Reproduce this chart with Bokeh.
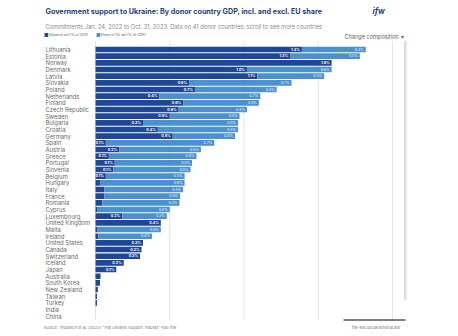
from bokeh.plotting import figure
from bokeh.models import ColumnDataSource, Range1d, Label, BoxAnnotation
from bokeh.core.properties import value
from bokeh.embed import file_html
from bokeh.resources import INLINE

countries = ["Lithuania", "Estonia", "Norway", "Denmark", "Latvia", "Slovakia", "Poland",
             "Netherlands", "Finland", "Czech Republic", "Sweden", "Bulgaria", "Croatia",
             "Germany", "Spain", "Austria", "Greece", "Portugal", "Slovenia", "Belgium",
             "Hungary", "Italy", "France", "Romania", "Cyprus", "Luxembourg",
             "United Kingdom", "Malta", "Ireland", "United States", "Canada", "Switzerland",
             "Iceland", "Japan", "Australia", "South Korea", "New Zealand", "Taiwan",
             "Turkey", "India", "China"]
bilateral = [1.39, 1.31, 1.59, 1.02, 1.09, 0.63, 0.67, 0.43, 0.59, 0.56, 0.50, 0.32, 0.42,
             0.52, 0.07, 0.16, 0.09, 0.13, 0.12, 0.07, 0.03, 0.06, 0.06, 0.045, 0.01, 0.18,
             0.44, 0.01, 0.02, 0.32, 0.31, 0.30, 0.19, 0.14, 0.034, 0.03, 0.016, 0.01,
             0.01, 0.0, 0.0]
eu_share = [0.43, 0.47, 0.0, 0.57, 0.45, 0.69, 0.55, 0.68, 0.51, 0.46, 0.47, 0.64, 0.54,
            0.42, 0.73, 0.55, 0.59, 0.52, 0.52, 0.53, 0.57, 0.53, 0.51, 0.52, 0.49, 0.30,
            0.0, 0.43, 0.36, 0.0, 0.0, 0.0, 0.0, 0.0, 0.0, 0.0, 0.0, 0.0, 0.0, 0.0, 0.0]
grid_ticks = [0, 0.5, 1.0, 1.5, 2.0]
series_names = ["Bilateral aid (% of GDP)", "Share of EU aid (% of GDP)"]

DARK = "#1f4797"
LIGHT = "#4b91d2"
FONT = "Inter"

W, H = 458, 336
X0_PX = 95          # pixel where 0 % sits
PX_PER_PCT = 148.5
ROW0_PX = 49        # centre of first row
ROW_PX = 6.667      # row pitch

rows = list(range(len(countries)))
source = ColumnDataSource(dict(row=rows, country=countries, bilateral=bilateral, eu=eu_share))

p = figure(width=W, height=H, output_backend="svg", toolbar_location=None,
           x_range=Range1d(-X0_PX / PX_PER_PCT, (W - X0_PX) / PX_PER_PCT),
           y_range=Range1d((H - ROW0_PX) / ROW_PX, -ROW0_PX / ROW_PX),
           min_border=0, min_border_left=0, min_border_right=0,
           min_border_top=0, min_border_bottom=0)
p.outline_line_color = None
p.background_fill_color = "white"
p.border_fill_color = "white"
p.xaxis.visible = False
p.yaxis.visible = False
p.xgrid.visible = False
p.ygrid.visible = False

# vertical grid lines, limited to the chart body
n = len(countries)
p.segment(x0=grid_ticks, x1=grid_ticks, y0=[-1.3] * len(grid_ticks),
          y1=[n - 0.4] * len(grid_ticks), line_color="#e3e3e3", line_width=1)

p.hbar_stack(["bilateral", "eu"], y="row", height=0.84, color=[DARK, LIGHT],
             line_color=None, source=source)

# country names
p.text(x=0, y="row", text="country", source=source, x_offset=-50,
       text_font=value(FONT), text_font_size="5.9px", text_color="#6a6a6a",
       text_align="left", text_baseline="middle")

# value labels
dk = [(i, b) for i, b in zip(rows, bilateral) if b >= 0.065]
dsrc = ColumnDataSource(dict(row=[i for i, _ in dk], x=[b for _, b in dk],
                             lab=[f"{b:.1f}%" for _, b in dk]))
p.text(x="x", y="row", text="lab", source=dsrc, x_offset=-2,
       text_font=value(FONT), text_font_size="3.6px", text_font_style="bold",
       text_color="white", text_align="right", text_baseline="middle")
lk = [(i, b + e, e) for i, b, e in zip(rows, bilateral, eu_share) if e > 0]
lsrc = ColumnDataSource(dict(row=[i for i, _, _ in lk], x=[t for _, t, _ in lk],
                             lab=[f"{e:.1f}%" for _, _, e in lk]))
p.text(x="x", y="row", text="lab", source=lsrc, x_offset=-2,
       text_font=value(FONT), text_font_size="3.6px",
       text_color="#e9f1fa", text_align="right", text_baseline="middle")

# texts in canvas pixels (frame == canvas)
def lab(text, cx, cy, size, color, style="normal", align="left"):
    p.add_layout(Label(x=cx, y=H - cy, x_units="screen", y_units="screen",
                       text=text, text_font=FONT, text_font_size=size, text_color=color,
                       text_font_style=style, text_align=align, text_baseline="middle"))

lab("Government support to Ukraine: By donor country GDP, incl. and excl. EU share",
    45, 11, "7.2px", "#263f78", "bold")
lab("Commitments Jan. 24, 2022 to Oct. 31, 2023. Data on 41 donor countries: scroll to see more countries",
    45, 25.5, "5.75px", "#8a8a8a")
# legend
lab("\u25a0", 43.5, 34.3, "5px", DARK)
lab(series_names[0], 49, 34.3, "3.5px", "#666666")
lab("\u25a0", 95.5, 34.3, "5px", LIGHT)
lab(series_names[1], 100, 34.3, "3.5px", "#666666")

lab("Change composition \u25be", 403, 36, "5.6px", "#666666", align="right")
lab("Source: Trebesch et al. (2023) \u201cThe Ukraine Support Tracker\u201d Kiel IfW",
    43, 327, "4px", "#777777")
lab("ifw-kiel.de/ukrainetracker", 400, 327, "4px", "#777777", align="right")
lab("ifw", 372, 10, "8px", "#263f78", "bold italic")

# scroll indicators of the embedded page
p.add_layout(BoxAnnotation(left=403.5, right=406, top=H - 40, bottom=H - 300,
                           left_units="screen", right_units="screen",
                           top_units="screen", bottom_units="screen",
                           fill_color="#dddddd", fill_alpha=1, line_color=None))
p.add_layout(BoxAnnotation(left=343, right=405, top=H - 318.8, bottom=H - 320.2,
                           left_units="screen", right_units="screen",
                           top_units="screen", bottom_units="screen",
                           fill_color="#555555", fill_alpha=1, line_color=None))

open("out.html", "w").write(file_html(p, INLINE))
